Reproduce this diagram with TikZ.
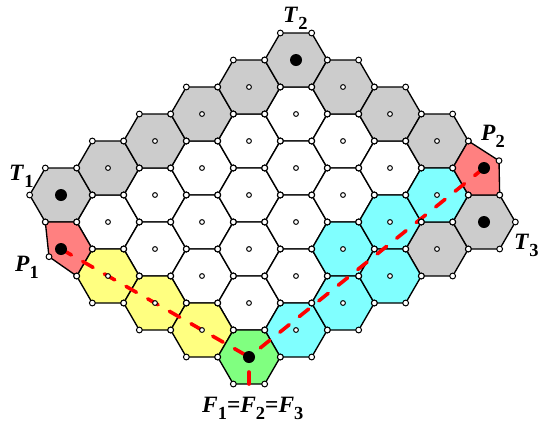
\documentclass[tikz,border=0pt]{standalone}
\usepackage{fontspec}
\setmainfont{Liberation Serif}
\definecolor{cellgray}{RGB}{204,204,204}
\definecolor{cellred}{RGB}{255,128,128}
\definecolor{cellyellow}{RGB}{255,255,128}
\definecolor{cellcyan}{RGB}{128,255,255}
\definecolor{cellgreen}{RGB}{128,255,128}
\definecolor{pathred}{RGB}{255,0,0}
\newcommand\mylbl[2]{\textbf{\textit{#1}}\raisebox{-7bp}{\fontsize{18.5}{18.5}\selectfont\textbf{#2}}}
\newcommand\myhex[2]{%
  \filldraw[cellline, fill=#2] (#1) ++(31.33,0) -- ++(-15.67,27) -- ++(-31.33,0)
    -- ++(-15.67,-27) -- ++(15.67,-27) -- ++(31.33,0) -- cycle;}
\begin{document}
\begin{tikzpicture}[x=1bp,y=-1bp,
  cellline/.style={draw=black, line width=1.35bp, line join=miter},
  vtx/.style={draw=black, fill=white, line width=1bp},
  ctr/.style={draw=black, fill=white, line width=1bp},
  bigdot/.style={fill=black},
  redpath/.style={draw=pathred, line width=3.6bp, line cap=round, dash pattern=on 12bp off 13bp},
  lbl/.style={inner sep=0pt, anchor=base west, font=\fontsize{23.5}{23.5}\selectfont}]
\useasboundingbox (0,0) rectangle (542,422);
% cell centres
\foreach \u in {0,...,5}{
  \foreach \w in {0,...,6}{
    \coordinate (c-\u-\w) at ({14+47*(\u+\w)},{222+27*\u-27*\w});
  }
}
\coordinate (P1) at (c-1-0);
\coordinate (P2) at (c-4-6);
\coordinate (T1) at (c-0-1);
\coordinate (T2) at (c-0-6);
\coordinate (T3) at (c-5-5);
\coordinate (F) at (c-5-0);
\coordinate (Fbot) at ([shift={(0,27)}]F);
% regular cells
\foreach \u/\w in {1/1,1/2,1/3,1/4,1/5,2/1,2/2,2/3,2/4,2/5,3/1,3/2,3/3,3/4,3/5,4/1,4/2}
  {\myhex{c-\u-\w}{white}}
\foreach \u/\w in {0/1,0/2,0/3,0/4,0/5,0/6,1/6,2/6,3/6,5/4,5/5}
  {\myhex{c-\u-\w}{cellgray}}
\foreach \u/\w in {2/0,3/0,4/0}
  {\myhex{c-\u-\w}{cellyellow}}
\foreach \u/\w in {4/3,4/4,4/5,5/1,5/2,5/3}
  {\myhex{c-\u-\w}{cellcyan}}
\myhex{F}{cellgreen}
% deformed cells
\filldraw[cellline, fill=cellred] ([shift={(-15.67,-27)}]P1) -- ([shift={(15.67,-27)}]P1)
  -- ([shift={(31.33,0)}]P1) -- ([shift={(15.67,27)}]P1) -- ([shift={(-12,7.7)}]P1) -- cycle;
\filldraw[cellline, fill=cellred] ([shift={(-15.67,-27)}]P2) -- ([shift={(15,-7.3)}]P2)
  -- ([shift={(15.67,27)}]P2) -- ([shift={(-15.67,27)}]P2) -- ([shift={(-31.33,0)}]P2) -- cycle;
% red paths
\draw[redpath] (P1) -- (F);
\draw[redpath] (P2) -- (F);
\draw[redpath] (Fbot) -- (F);
% vertex markers
\foreach \u/\w in {1/1,1/2,1/3,1/4,1/5,2/1,2/2,2/3,2/4,2/5,3/1,3/2,3/3,3/4,3/5,4/1,4/2,
    0/1,0/2,0/3,0/4,0/5,0/6,1/6,2/6,3/6,5/4,5/5,2/0,3/0,4/0,4/3,4/4,4/5,5/1,5/2,5/3,5/0}{
  \foreach \dx/\dy in {31.33/0,15.67/27,-15.67/27,-31.33/0,-15.67/-27,15.67/-27}
    {\filldraw[vtx] ([shift={(\dx,\dy)}]c-\u-\w) circle[radius=2.9bp];}
}
\foreach \dx/\dy in {-15.67/-27,15.67/-27,31.33/0,15.67/27,-12/7.7}
  {\filldraw[vtx] ([shift={(\dx,\dy)}]P1) circle[radius=2.9bp];}
\foreach \dx/\dy in {-15.67/-27,15/-7.3,15.67/27,-15.67/27,-31.33/0}
  {\filldraw[vtx] ([shift={(\dx,\dy)}]P2) circle[radius=2.9bp];}
% centre markers
\foreach \u/\w in {1/1,1/2,1/3,1/4,1/5,2/1,2/2,2/3,2/4,2/5,3/1,3/2,3/3,3/4,3/5,4/1,4/2,
    0/2,0/3,0/4,0/5,1/6,2/6,3/6,5/4,2/0,3/0,4/0,4/3,4/4,4/5,5/1,5/2,5/3}
  {\filldraw[ctr] (c-\u-\w) circle[radius=2.4bp];}
% stones
\foreach \s in {T1,T2,T3,P1,P2,F}
  {\fill[bigdot] (\s) circle[radius=6bp];}
% labels
\node[lbl] (lT1) at (9,180) {\mylbl{T}{1}};
\node[lbl] (lT2) at (283,22) {\mylbl{T}{2}};
\node[lbl] (lP1) at (15,271) {\mylbl{P}{1}};
\node[lbl] (lP2) at (481,140) {\mylbl{P}{2}};
\node[lbl] (lT3) at (514,249) {\mylbl{T}{3}};
\node[lbl] (lF) at (202,412) {\mylbl{F}{1}\textbf{=}\mylbl{F}{2}\textbf{=}\mylbl{F}{3}};
\end{tikzpicture}
\end{document}
